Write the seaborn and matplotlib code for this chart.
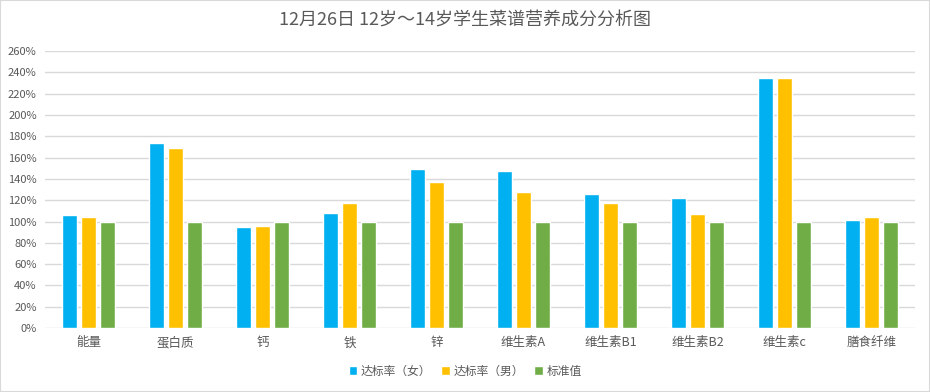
import numpy as np
import seaborn as sns
import pandas as pd
import matplotlib.pyplot as plt
from matplotlib.ticker import PercentFormatter
from matplotlib.patches import Rectangle

categories = ["能量", "蛋白质", "钙", "铁", "锌", "维生素A", "维生素B1", "维生素B2", "维生素c", "膳食纤维"]
female = [106, 174, 95, 108, 149, 147, 126, 122, 235, 101]
male = [104, 169, 96, 117, 137, 128, 117, 107, 235, 104]
standard = [100, 100, 100, 100, 100, 100, 100, 100, 100, 100]
series = ["达标率（女）", "达标率（男）", "标准值"]
colors = ["#00B0F0", "#FFC000", "#70AD47"]

sns.set_theme(style="white")
plt.rcParams['font.family'] = ['Noto Sans CJK SC', 'DejaVu Sans']

rows = []
for vals, name in zip([female, male, standard], series):
    for c, v in zip(categories, vals):
        rows.append({"营养素": c, "系列": name, "值": v / 100})
df = pd.DataFrame(rows)

fig = plt.figure(figsize=(9.3, 3.92), dpi=100)
ax = fig.add_axes([0.0484, 0.163, 0.9355, 0.707])

sns.barplot(data=df, x="营养素", y="值", hue="系列", palette=colors,
            width=0.65, gap=0.2, saturation=1, ax=ax, legend=True)

ax.set_ylim(0, 2.6)
ax.set_yticks(np.arange(0, 2.61, 0.2))
ax.yaxis.set_major_formatter(PercentFormatter(1.0, decimals=0))
ax.set_xlim(-0.5, len(categories) - 0.5)
ax.grid(axis="y", color="#D9D9D9", linewidth=1)
ax.set_axisbelow(True)
for s in ax.spines.values():
    s.set_visible(False)
ax.set_xlabel("")
ax.set_ylabel("")
ax.tick_params(axis="y", labelsize=8, colors="#595959", length=0, pad=6)
ax.tick_params(axis="x", labelsize=9, colors="#595959", length=0, pad=6)

handles, labels = ax.get_legend_handles_labels()
ax.legend(handles, labels, loc="center", bbox_to_anchor=(0.5, 0.0535),
          bbox_transform=fig.transFigure, ncol=3, frameon=False,
          fontsize=8.5, handlelength=0.7, handleheight=0.7,
          handletextpad=0.3, columnspacing=0.9, labelcolor="#595959")

fig.text(0.5, 0.948, "12月26日 12岁～14岁学生菜谱营养成分分析图", ha="center", va="center",
         fontsize=13, color="#595959")

fig.patches.append(Rectangle((0, 0), 1, 1, transform=fig.transFigure, fill=False,
                             edgecolor="#D9D9D9", linewidth=1.5))

plt.savefig("out.png", dpi=100)
